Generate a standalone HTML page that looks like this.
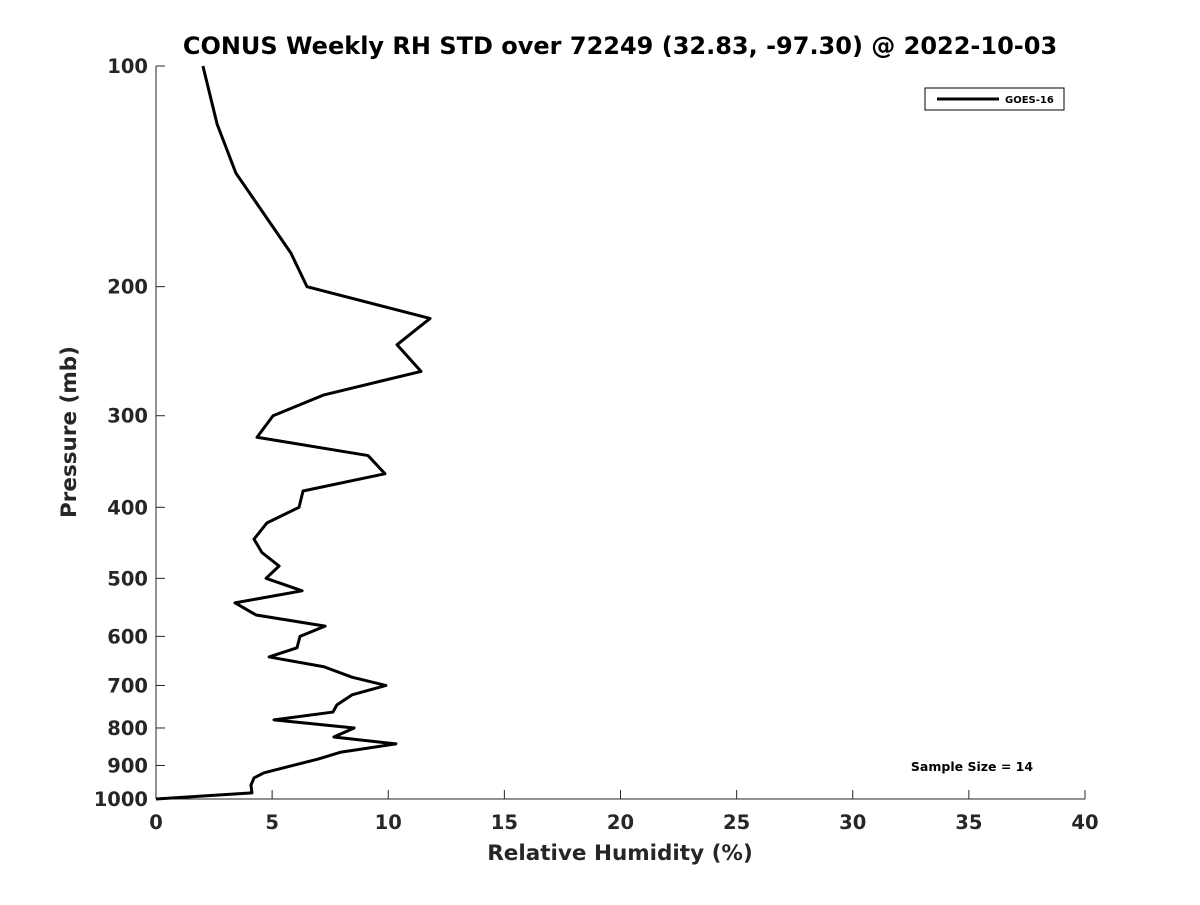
<!DOCTYPE html>
<html><head><meta charset="utf-8"><style>
body{margin:0;background:#fff}
svg text{font-family:"DejaVu Sans","Liberation Sans",sans-serif;font-weight:bold;fill:#262626}
</style></head><body>
<svg width="1200" height="900" xmlns="http://www.w3.org/2000/svg">
<rect width="1200" height="900" fill="#fff"/>
<text x="620" y="54" text-anchor="middle" font-size="24" style="fill:#000">CONUS Weekly RH STD over 72249 (32.83, -97.30) @ 2022-10-03</text>
<g id="axes"></g>
<polyline id="line" fill="none" stroke="#000" stroke-width="3" stroke-linejoin="round"/>
<text x="620" y="860" text-anchor="middle" font-size="21.5">Relative Humidity (%)</text>
<text transform="translate(76,432) rotate(-90)" text-anchor="middle" font-size="21.5">Pressure (mb)</text>
<g>
<rect x="925" y="88" width="139" height="22" fill="#fff" stroke="#000" stroke-width="1"/>
<line x1="937" y1="99" x2="999" y2="99" stroke="#000" stroke-width="3"/>
<text x="1005" y="103" font-size="10" style="fill:#000">GOES-16</text>
</g>
<text x="972" y="771" text-anchor="middle" font-size="12.5" style="fill:#000">Sample Size = 14</text>
</svg>
<script>
const rh=[2.02,2.63,3.44,5.81,6.50,11.8,10.38,11.41,7.23,5.04,4.35,9.13,9.86,6.33,6.16,4.78,4.22,4.56,5.30,4.74,6.29,3.40,4.31,7.28,6.20,6.07,4.87,7.23,8.44,9.90,8.44,7.79,7.62,5.08,8.53,7.66,10.33,7.97,6.98,4.65,4.22,4.09,4.13,0];
const pres=[100,120,140,180,200,221,240,261,281,300,321,340,360,380,400,420,442,461,481,500,520,540,561,581,600,622,640,660,682,700,721,744,761,780,800,823,841,863,882,921,936,957,981,1000];
const xTicks=[0,5,10,15,20,25,30,35,40];
const yTicks=[100,200,300,400,500,600,700,800,900,1000];
const X=v=>156+v/40*929;
const Y=p=>66+(Math.log10(p)-2)*733;
const NS="http://www.w3.org/2000/svg";
const ax=document.getElementById('axes');
function mk(t,a){const e=document.createElementNS(NS,t);for(const k in a)e.setAttribute(k,a[k]);ax.appendChild(e);return e;}
const yl=mk('line',{x1:156,y1:66,x2:156,y2:799,stroke:'#262626','stroke-width':1});


const xl=mk('line',{x1:156,y1:799,x2:1085,y2:799,stroke:'#262626','stroke-width':1});


xTicks.forEach(v=>{
  mk('line',{x1:X(v),y1:799,x2:X(v),y2:790,stroke:'#262626'});
  const t=mk('text',{x:X(v),y:829,'text-anchor':'middle','font-size':19.5});
  t.textContent=v;
  
  
});
yTicks.forEach(p=>{
  mk('line',{x1:156,y1:Y(p),x2:165,y2:Y(p),stroke:'#262626'});
  const t=mk('text',{x:148,y:Y(p)+7,'text-anchor':'end','font-size':19.5});
  t.textContent=p;
  
  
});
document.getElementById('line').setAttribute('points',rh.map((v,i)=>X(v)+','+Y(pres[i])).join(' '));
</script>
</body></html>
